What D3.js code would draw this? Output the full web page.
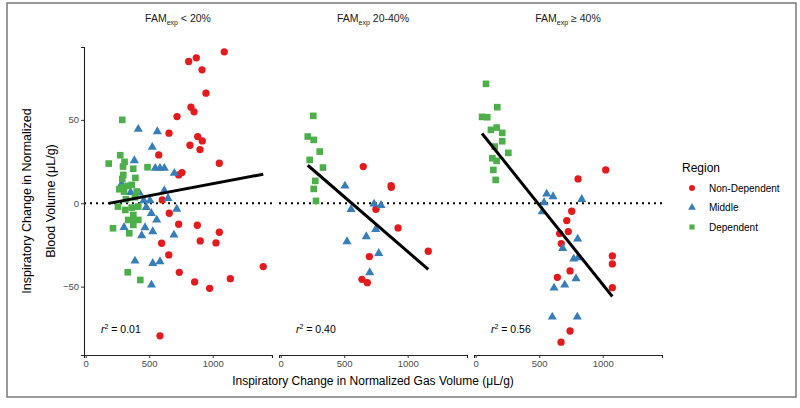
<!DOCTYPE html>
<html><head><meta charset="utf-8">
<script src="https://cdn.jsdelivr.net/npm/d3@7"></script>
<style>body{margin:0;background:#fff} svg{display:block;font-family:"Liberation Sans",Arial,sans-serif}</style>
</head><body><svg id="c" width="800" height="408"></svg>
<script>
// ---------- DATA ----------
const panelLabels = ["< 20%", "20-40%", "\u2265 40%"];
const regions = ["Non-Dependent", "Middle", "Dependent"];
const regionColors = ["#E41A1C", "#377EB8", "#4DAF4A"];
const xTicks = [0, 500, 1000];
const yTicks = [-50, 0, 50];

// Panel 1: FAMexp < 20%
const p1NonDependent = [[1091,90.8],[811,85],[871,87.2],[916,80],[947,66],[829,57.6],[853,54.8],[719,52],[656,42],[882,40],[918,37.4],[821,34.8],[900,32.2],[575,29],[1052,24],[758,18.4],[732,17],[603,2],[658,-6],[732,-12.6],[879,-13.2],[1052,-17.4],[902,-22.6],[1026,-23.8],[598,-24],[654,-31],[1398,-38],[737,-41.4],[1139,-45.2],[858,-47.2],[976,-51],[585,-79.5]];
const p1Middle = [[414,44.4],[564,43],[524,33.6],[383,25.6],[548,21],[585,21],[619,21],[698,18],[283,11.6],[354,6.6],[422,6.2],[619,7.6],[648,3],[457,1.6],[506,1.6],[477,-2.4],[717,-3.5],[517,-6],[559,-10],[302,-14.4],[467,-14.6],[441,-19.4],[528,-17],[695,-19],[388,-34.6],[528,-36],[585,-35],[518,-49]];
const p1Dependent = [[288,50],[181,23.8],[272,28.8],[306,24.8],[294,22],[374,20.7],[487,21.6],[296,17],[391,15.2],[288,14.6],[362,11],[331,10.4],[291,9.6],[265,8.4],[302,7],[402,7],[388,3.6],[317,2.4],[254,-2],[312,-4],[414,-2],[362,-2.6],[375,-7],[335,-10],[375,-10],[414,-10],[375,-13],[215,-15],[343,-18],[331,-41.4],[430,-46]];

// Panel 2: FAMexp 20-40%
const p2NonDependent = [[650,22],[871,9.6],[869,10.6],[750,-3.6],[924,-14.8],[1162,-28.8],[698,-32],[640,-45.6],[682,-47.6]];
const p2Middle = [[506,10.4],[735,-0.4],[790,-1.2],[554,-3.6],[748,-15.6],[674,-20],[522,-23],[772,-30],[701,-41.6]];
const p2Dependent = [[257,52.4],[213,40],[260,38],[307,31],[228,26],[333,21.4],[272,13.4],[260,8.6],[278,1.4]];

// Panel 3: FAMexp >= 40%
const p3NonDependent = [[1024,20],[806,14.6],[756,-4.8],[717,-10.4],[729,-17],[661,-18.2],[674,-24.2],[1076,-31.6],[1076,-36.4],[743,-40.6],[643,-44.4],[1076,-50.6],[743,-76.6],[672,-83.3]];
const p3Middle = [[559,5.6],[609,4],[835,2.4],[538,0.4],[524,-5],[803,-21.4],[685,-27],[772,-33.4],[806,-32.6],[790,-45.2],[617,-50.8],[701,-49],[603,-68.2],[800,-68.2]];
const p3Dependent = [[81,71.6],[170,57.6],[50,51.8],[91,51.6],[165,45.4],[120,44],[209,42.2],[209,37.2],[150,34],[257,30.2],[131,27],[165,25.4],[139,20],[157,14]];

// Fitted regression lines and r^2 labels
const fitIntercept = [-2.67, 36.8, 46.6];
const fitSlope = [0.01436, -0.0658, -0.0953];
const r2Labels = ["0.01", "0.40", "0.56"];

const panelData = [
  [p1NonDependent, p1Middle, p1Dependent],
  [p2NonDependent, p2Middle, p2Dependent],
  [p3NonDependent, p3Middle, p3Dependent]
];

// ---------- DRAW ----------
const svg = d3.select("#c");
svg.append("rect").attr("x", 7).attr("y", 3).attr("width", 789).attr("height", 394)
  .attr("fill", "none").attr("stroke", "#7a7a7a").attr("stroke-width", 1.5);

const plotTop = 47, plotBottom = 355;
const band = d3.scaleBand().domain(d3.range(3)).range([84, 662]).paddingInner(0.0359).paddingOuter(0);
const y = d3.scaleLinear().domain([-91, 93.7]).range([plotBottom, plotTop]);

const symbols = [
  d3.symbol().type(d3.symbolCircle).size(42),
  d3.symbol().type(d3.symbolTriangle).size(36),
  d3.symbol().type(d3.symbolSquare).size(44)
];

panelData.forEach((groups, pi) => {
  const x0 = band(pi), w = band.bandwidth();
  const x = d3.scaleLinear().domain([-13.4, 1467]).range([x0, x0 + w]);
  const g = svg.append("g");

  g.append("line").attr("x1", x0).attr("x2", x0 + w).attr("y1", y(0)).attr("y2", y(0))
    .attr("stroke", "#000").attr("stroke-width", 2).attr("stroke-dasharray", "2,4");

  const xa = g.append("g").attr("transform", `translate(0,${plotBottom})`)
    .call(d3.axisBottom(x).tickValues(xTicks).tickFormat(d3.format("d")).tickSize(3).tickPadding(2));
  xa.select(".domain").attr("stroke", "#222").attr("stroke-width", 1.1);
  xa.selectAll(".tick line").attr("stroke", "#333");
  xa.selectAll("text").attr("fill", "#4d4d4d").attr("font-size", 9.5).style("font-family", "Liberation Sans, Arial, sans-serif");

  if (pi === 0) {
    const ya = g.append("g").attr("transform", `translate(${x0},0)`)
      .call(d3.axisLeft(y).tickValues(yTicks).tickFormat(d3.format("d")).tickSize(3).tickPadding(2));
    ya.select(".domain").attr("stroke", "#222").attr("stroke-width", 1.1);
    ya.selectAll(".tick line").attr("stroke", "#333");
    ya.selectAll("text").attr("fill", "#4d4d4d").attr("font-size", 9.5).style("font-family", "Liberation Sans, Arial, sans-serif");
  }

  groups.forEach((pts, ri) => {
    g.append("g").selectAll("path").data(pts).join("path")
      .attr("d", symbols[ri])
      .attr("transform", d => `translate(${x(d[0])},${y(d[1])})`)
      .attr("fill", regionColors[ri]);
  });

  const allX = groups.flat().map(d => d[0]);
  const xmin = d3.min(allX), xmax = d3.max(allX);
  g.append("line")
    .attr("x1", x(xmin)).attr("y1", y(fitIntercept[pi] + fitSlope[pi] * xmin))
    .attr("x2", x(xmax)).attr("y2", y(fitIntercept[pi] + fitSlope[pi] * xmax))
    .attr("stroke", "#000").attr("stroke-width", 3);

  const t = g.append("text").attr("x", x(120)).attr("y", y(-75.5)).attr("dy", "0.35em")
    .attr("font-size", 10.5).attr("fill", "#000");
  t.append("tspan").attr("font-style", "italic").text("r");
  t.append("tspan").attr("font-size", 7).attr("dy", "-0.5em").text("2");
  t.append("tspan").attr("dy", "0.35em").text(" = " + r2Labels[pi]);

  const tt = svg.append("text").attr("x", x0 + w / 2).attr("y", 22).attr("text-anchor", "middle")
    .attr("font-size", 10.5).attr("fill", "#1a1a1a");
  tt.append("tspan").text("FAM");
  tt.append("tspan").attr("font-size", 7).attr("dy", "2.5").text("exp");
  tt.append("tspan").attr("dy", "-2.5").text(" " + panelLabels[pi]);
});

svg.append("text").attr("x", 373).attr("y", 385).attr("text-anchor", "middle")
  .attr("font-size", 12).attr("fill", "#000")
  .text("Inspiratory Change in Normalized Gas Volume (\u03BCL/g)");
const yt = svg.append("text").attr("transform", "translate(31,201) rotate(-90)")
  .attr("text-anchor", "middle").attr("font-size", 12.5).attr("fill", "#000");
yt.append("tspan").attr("x", 0).attr("y", 0).text("Inspiratory Change in Normalized");
yt.append("tspan").attr("x", 0).attr("y", 24).text("Blood Volume (\u03BCL/g)");

const lg = svg.append("g");
lg.append("text").attr("x", 682).attr("y", 172).attr("font-size", 12).attr("fill", "#000").text("Region");
const legendSymbols = [
  d3.symbol().type(d3.symbolCircle).size(28),
  d3.symbol().type(d3.symbolTriangle).size(26),
  d3.symbol().type(d3.symbolSquare).size(26)
];
regions.forEach((r, i) => {
  const yy = 188 + i * 19.5;
  lg.append("path").attr("d", legendSymbols[i]).attr("transform", `translate(692,${yy})`).attr("fill", regionColors[i]);
  lg.append("text").attr("x", 709).attr("y", yy).attr("dy", "0.35em").attr("font-size", 10).attr("fill", "#000").text(r);
});
</script></body></html>
